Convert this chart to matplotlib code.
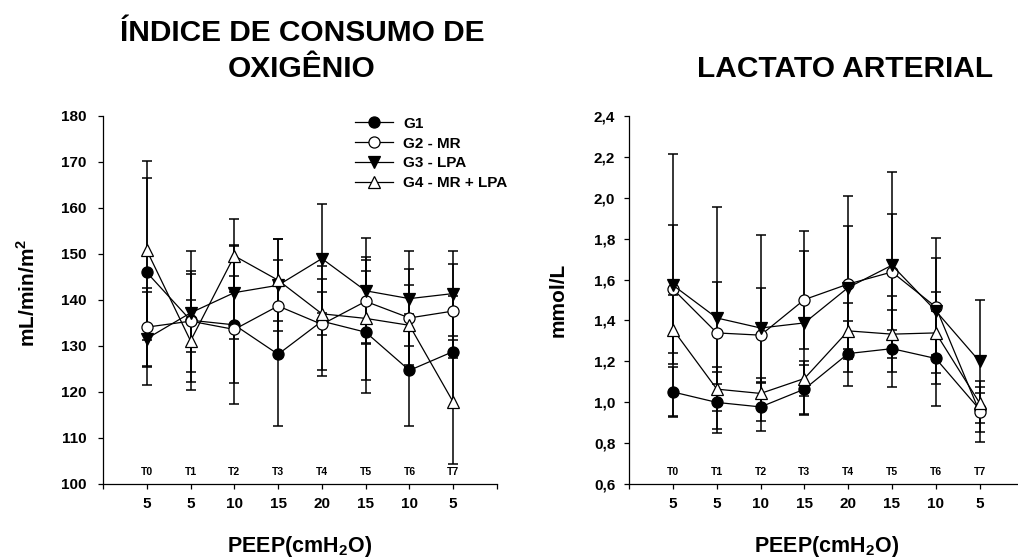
import matplotlib
matplotlib.use("Agg")
import matplotlib.pyplot as plt
import matplotlib.transforms as mtransforms

plt.rcParams['font.family'] = ['Liberation Sans', 'DejaVu Sans']
plt.rcParams['font.weight'] = 'bold'
plt.rcParams['mathtext.fontset'] = 'custom'
plt.rcParams['mathtext.rm'] = 'Liberation Sans:bold'
plt.rcParams['mathtext.bf'] = 'Liberation Sans:bold'

# ---------------- data ----------------
times = [0, 1, 2, 3, 4, 5, 6, 7]
time_labels = ['T0', 'T1', 'T2', 'T3', 'T4', 'T5', 'T6', 'T7']
peep_labels = ['5', '5', '10', '15', '20', '15', '10', '5']
group_names = ['G1', 'G2 - MR', 'G3 - LPA', 'G4 - MR + LPA']

# Índice de consumo de oxigênio (mL/min/m2)
vo2_g1 = [146.0, 135.6, 134.6, 128.2, 135.4, 133.0, 124.7, 128.8]
vo2_g1_sd = [20.5, 15.1, 17.3, 15.6, 12.0, 13.2, 12.2, 12.1]
vo2_g2 = [134.1, 135.4, 133.6, 138.7, 134.7, 139.7, 136.1, 137.6]
vo2_g2_sd = [8.4, 11.0, 11.6, 9.9, 9.9, 9.0, 10.7, 10.3]
vo2_g3 = [131.6, 137.2, 141.6, 143.2, 149.0, 142.0, 140.3, 141.4]
vo2_g3_sd = [10.1, 8.5, 10.1, 10.0, 11.8, 11.5, 10.4, 9.3]
vo2_g4 = [150.8, 131.1, 149.6, 144.3, 137.0, 136.0, 134.5, 117.8]
vo2_g4_sd = [19.4, 9.0, 7.9, 8.9, 4.7, 13.3, 8.7, 13.5]

# Lactato arterial (mmol/L)
lac_g1 = [1.050, 0.999, 0.977, 1.064, 1.238, 1.262, 1.214, 0.965]
lac_g1_sd = [0.12, 0.15, 0.12, 0.12, 0.16, 0.188, 0.234, 0.11]
lac_g2 = [1.553, 1.339, 1.328, 1.502, 1.578, 1.637, 1.466, 0.953]
lac_g2_sd = [0.312, 0.25, 0.233, 0.24, 0.43, 0.282, 0.237, 0.15]
lac_g3 = [1.572, 1.412, 1.363, 1.388, 1.561, 1.670, 1.447, 1.200]
lac_g3_sd = [0.64, 0.545, 0.457, 0.45, 0.30, 0.456, 0.358, 0.30]
lac_g4 = [1.355, 1.064, 1.043, 1.116, 1.349, 1.333, 1.339, 0.997]
lac_g4_sd = [0.17, 0.106, 0.077, 0.084, 0.137, 0.187, 0.198, 0.05]

vo2_ticks = [100, 110, 120, 130, 140, 150, 160, 170, 180]
lac_ticks = [0.6, 0.8, 1.0, 1.2, 1.4, 1.6, 1.8, 2.0, 2.2, 2.4]

styles = [
    dict(marker='o', mfc='black'),
    dict(marker='o', mfc='white'),
    dict(marker='v', mfc='black'),
    dict(marker='^', mfc='white'),
]

W, H = 1018, 559
fig = plt.figure(figsize=(W / 100, H / 100), dpi=100)

def make_axes(left_px):
    return fig.add_axes([left_px / W, 1 - 484 / H, 394 / W, 368 / H])

def draw_panel(ax, means, sds, ylim, yticks, ytick_fmt, ypad):
    handles = []
    for m, s, st, name in zip(means, sds, styles, group_names):
        ax.errorbar(times, m, yerr=s, fmt='none', ecolor='black',
                    elinewidth=1.1, capsize=3.6, capthick=1.1, zorder=2)
        h, = ax.plot(times, m, color='black', lw=0.9, marker=st['marker'],
                     markersize=8, markerfacecolor=st['mfc'],
                     markeredgecolor='black', markeredgewidth=0.9,
                     label=name, zorder=3)
        handles.append(h)
    ax.set_xlim(-1, 8)
    ax.set_ylim(*ylim)
    ax.set_xticks(list(range(-1, 9)))
    ax.set_xticklabels([''] + peep_labels + [''])
    ax.set_yticks(yticks)
    ax.set_yticklabels([ytick_fmt(v) for v in yticks])
    for sp in ['top', 'right']:
        ax.spines[sp].set_visible(False)
    for sp in ['left', 'bottom']:
        ax.spines[sp].set_linewidth(0.9)
    ax.tick_params(axis='both', direction='out', length=3.6, width=0.9,
                   labelsize=11)
    ax.tick_params(axis='x', pad=5.5)
    ax.tick_params(axis='y', pad=ypad)
    for lab in ax.get_xticklabels() + ax.get_yticklabels():
        lab.set_fontweight('bold')
    trans = mtransforms.blended_transform_factory(ax.transData, ax.transAxes)
    for t, tl in zip(times, time_labels):
        ax.text(t, 0.033, tl, transform=trans, ha='center', va='center',
                fontsize=7.5, fontweight='bold')
    ax.set_xlabel(r'PEEP(cmH$_\mathbf{2}$O)', fontsize=15.5, fontweight='bold')
    ax.xaxis.set_label_coords(0.5, -0.136)
    return handles

ax1 = make_axes(103)
h1 = draw_panel(ax1, [vo2_g1, vo2_g2, vo2_g3, vo2_g4],
                [vo2_g1_sd, vo2_g2_sd, vo2_g3_sd, vo2_g4_sd],
                (100, 180), vo2_ticks, lambda v: f'{v:d}', 8.5)
ax1.set_ylabel(r'mL/min/m$^\mathbf{2}$', fontsize=15, fontweight='bold')
ax1.yaxis.set_label_coords(-0.163, 0.52)

ax2 = make_axes(629.3)
h2 = draw_panel(ax2, [lac_g1, lac_g2, lac_g3, lac_g4],
                [lac_g1_sd, lac_g2_sd, lac_g3_sd, lac_g4_sd],
                (0.6, 2.4), lac_ticks, lambda v: f'{v:.1f}'.replace('.', ','), 6.5)
ax2.set_ylabel('mmol/L', fontsize=15, fontweight='bold')
ax2.yaxis.set_label_coords(-0.157, 0.5)

leg = ax1.legend(handles=h1, loc='upper left', bbox_to_anchor=(0.64, 0.998),
                 frameon=False, borderpad=0, borderaxespad=0,
                 handlelength=2.5, handletextpad=0.65, labelspacing=0.38,
                 prop=dict(size=11, weight='bold'))

fig.text(302 / W, 1 - 40.7 / H, 'ÍNDICE DE CONSUMO DE', ha='center',
         va='baseline', fontsize=21.5, fontweight='bold')
fig.text(302 / W, 1 - 77 / H, 'OXIGÊNIO', ha='center', va='baseline',
         fontsize=21.5, fontweight='bold')
fig.text(845 / W, 1 - 77 / H, 'LACTATO ARTERIAL', ha='center', va='baseline',
         fontsize=21.5, fontweight='bold')

fig.savefig('out.png', dpi=100)
